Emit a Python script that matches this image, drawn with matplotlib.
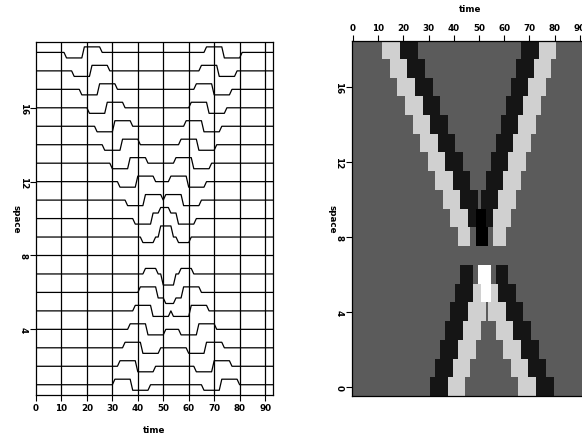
import numpy as np
import matplotlib
matplotlib.use("Agg")
import matplotlib.pyplot as plt
from matplotlib.colors import ListedColormap, BoundaryNorm

# ---- data ----
n_time = 94            # time samples 0..93
n_space = 19           # traces 0..18
lobe_len = 7           # each lobe lasts 7 samples

# onset (first sample) of each two-lobe event, per trace
rows_lower = [0, 1, 2, 3, 4, 5, 6]
onset_A = [31, 33, 35, 37, 39, 41, 43]          # +1 lobe then -1 lobe
onset_B = [66, 63, 60, 57, 54, 51, 48]          # -1 lobe then +1 lobe
rows_upper = [8, 9, 10, 11, 12, 13, 14, 15, 16, 17, 18]
onset_C = [42, 39, 36, 33, 30, 27, 24, 21, 18, 15, 12]   # -1 then +1
onset_D = [47, 49, 51, 53, 55, 57, 59, 61, 63, 65, 67]   # +1 then -1

polarity_A = (1, -1)
polarity_B = (-1, 1)
polarity_C = (-1, 1)
polarity_D = (1, -1)

time_ticks = [0, 10, 20, 30, 40, 50, 60, 70, 80, 90]
space_ticks = [0, 4, 8, 12, 16]

data = np.zeros((n_space, n_time))
def add_event(rows, onsets, pol):
    for r, t0 in zip(rows, onsets):
        data[r, t0:t0 + lobe_len] += pol[0]
        data[r, t0 + lobe_len:t0 + 2 * lobe_len] += pol[1]

add_event(rows_lower, onset_A, polarity_A)
add_event(rows_lower, onset_B, polarity_B)
add_event(rows_upper, onset_C, polarity_C)
add_event(rows_upper, onset_D, polarity_D)

t = np.arange(n_time)

plt.rcParams['font.family'] = ['DejaVu Sans']
fs = 6.3
W, H = 582, 435
fig = plt.figure(figsize=(W / 100, H / 100), dpi=100)

# ---- left: wiggle panel ----
axL = fig.add_axes([36 / W, 1 - 395.7 / H, (272.7 - 36) / W, (395.7 - 42.7) / H])
amp = 0.3
for i in range(n_space):
    axL.plot(t, (i + 1) + amp * data[i], color='black', lw=0.9)
for x in time_ticks[1:]:
    axL.axvline(x, color='black', lw=0.9, zorder=0)
axL.set_xlim(0, 93)
axL.set_ylim(0.46, 19.58)
axL.set_xticks(time_ticks)
axL.set_yticks([4, 8, 12, 16])
axL.set_xticklabels([str(v) for v in time_ticks], fontsize=fs, fontweight='bold')
axL.set_yticklabels(['4', '8', '12', '16'], fontsize=fs, fontweight='bold',
                    rotation=-90, va='center')
axL.tick_params(direction='out', length=4, width=0.8, pad=2)
axL.set_xlabel('time', fontsize=fs, fontweight='bold', labelpad=9)
axL.set_ylabel('space', fontsize=fs, fontweight='bold', rotation=-90,
               va='center', labelpad=2)
for s in axL.spines.values():
    s.set_linewidth(0.9)

# ---- right: image panel ----
colors = ['#ffffff', '#d0d0d0', '#5b5b5b', '#151515', '#000000']
cmap = ListedColormap(colors)
norm = BoundaryNorm([-2.5, -1.5, -0.5, 0.5, 1.5, 2.5], cmap.N)
axR = fig.add_axes([351.7 / W, 1 - 397 / H, 236.9 / W, (397 - 41.7) / H])
axR.imshow(data, cmap=cmap, norm=norm, aspect='auto', origin='lower',
           extent=(-0.5, n_time - 0.5, -0.5, n_space - 0.5),
           interpolation='nearest')
axR.xaxis.tick_top()
axR.xaxis.set_label_position('top')
axR.set_xticks(time_ticks)
axR.set_xticklabels([str(v) for v in time_ticks], fontsize=fs, fontweight='bold')
axR.set_yticks(space_ticks)
axR.set_yticklabels([str(v) for v in space_ticks], fontsize=fs, fontweight='bold',
                    rotation=-90, va='center')
axR.tick_params(direction='out', length=4, width=0.8, pad=2)
axR.set_xlabel('time', fontsize=fs, fontweight='bold', labelpad=9)
axR.set_ylabel('space', fontsize=fs, fontweight='bold', rotation=-90,
               va='center', labelpad=2)
for s in axR.spines.values():
    s.set_linewidth(0.9)

fig.savefig('out.png', dpi=100)
